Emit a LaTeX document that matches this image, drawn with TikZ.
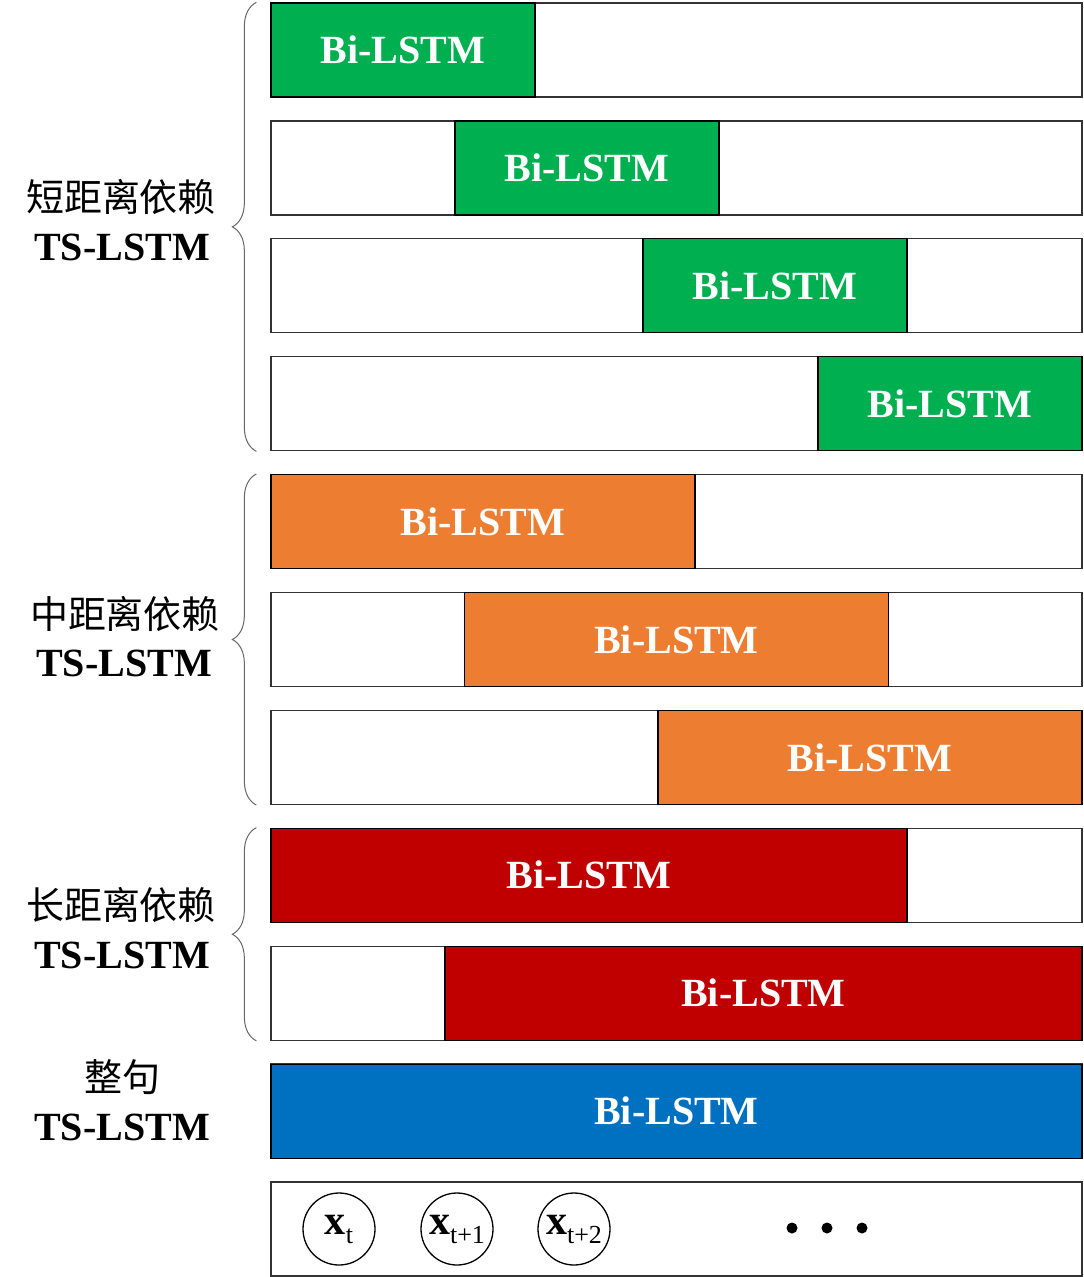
\documentclass[tikz,border=0pt]{standalone}
\usepackage{fontspec}
\setmainfont{Liberation Serif}
\newfontfamily\cjk{Noto Sans CJK SC}
\usetikzlibrary{decorations.pathreplacing}
\definecolor{sgreen}{HTML}{00B050}
\definecolor{sorange}{HTML}{ED7D31}
\definecolor{sred}{HTML}{C00000}
\definecolor{sblue}{HTML}{0070C0}
\tikzset{
  rowbox/.style={draw=black!80,line width=1.3pt,minimum width=811pt,minimum height=94pt,inner sep=0pt},
  seg/.style={draw=black,line width=1.2pt,minimum height=94pt,inner sep=0pt,text=white,
    font=\fontsize{40}{40}\selectfont\bfseries},
  grp/.style={draw=black!60,line width=1pt,decorate,decoration={brace,amplitude=24pt}},
  cn/.style={font=\fontsize{38}{38}\selectfont\cjk},
  ts/.style={font=\fontsize{40}{40}\selectfont\bfseries},
  inp/.style={circle,draw,line width=1.3pt,minimum size=72pt,inner sep=0pt},
  dot/.style={circle,fill,minimum size=11pt,inner sep=0pt},
}
\newcommand{\xin}[1]{{\fontsize{42}{42}\selectfont\bfseries x}\raisebox{-9pt}{\fontsize{26}{26}\selectfont #1}}

\begin{document}
\begin{tikzpicture}[x=1pt,y=-1pt]
  \useasboundingbox (0,0) rectangle (1084,1277);
  % rows
  \foreach \i in {1,...,11}
    \node[rowbox] (row\i) at (676.5,{50+117.9*(\i-1)}) {};

  % short range
  \node[seg,fill=sgreen,minimum width=264pt] (g1) at (403,50) {Bi-LSTM};
  \node[seg,fill=sgreen,minimum width=264pt] (g2) at (587,167.9) {Bi-LSTM};
  \node[seg,fill=sgreen,minimum width=264pt] (g3) at (775,285.8) {Bi-LSTM};
  \node[seg,fill=sgreen,minimum width=264pt] (g4) at (950,403.7) {Bi-LSTM};
  % middle range
  \node[seg,fill=sorange,minimum width=424pt] (o1) at (483,521.6) {Bi-LSTM};
  \node[seg,fill=sorange,minimum width=424pt] (o2) at (676.5,639.5) {Bi-LSTM};
  \node[seg,fill=sorange,minimum width=424pt] (o3) at (870,757.4) {Bi-LSTM};
  % long range
  \node[seg,fill=sred,minimum width=636pt] (r1) at (589,875.3) {Bi-LSTM};
  \node[seg,fill=sred,minimum width=637pt] (r2) at (763.5,993.2) {Bi-LSTM};
  % whole sentence
  \node[seg,fill=sblue,minimum width=811pt] (b1) at (676.5,1111.1) {Bi-LSTM};

  % inputs
  \node[inp] (x1) at (339,1229) {\xin{t}};
  \node[inp] (x2) at (457,1229) {\xin{t+1}};
  \node[inp] (x3) at (574,1229) {\xin{t+2}};
  \node[dot] (d1) at (792,1228) {};
  \node[dot] (d2) at (827,1228) {};
  \node[dot] (d3) at (862,1228) {};

  % braces
  \draw[grp] ([xshift=-14pt]row4.south west) -- ([xshift=-14pt]row1.north west);
  \draw[grp] ([xshift=-14pt]row7.south west) -- ([xshift=-14pt]row5.north west);
  \draw[grp] ([xshift=-14pt]row9.south west) -- ([xshift=-14pt]row8.north west);

  % labels
  \node[cn] (c1) at (121,197) {短距离依赖};
  \node[ts] (t1) at (122,247) {TS-LSTM};
  \node[cn] (c2) at (125,614) {中距离依赖};
  \node[ts] (t2) at (124,663) {TS-LSTM};
  \node[cn] (c3) at (121,905) {长距离依赖};
  \node[ts] (t3) at (122,955) {TS-LSTM};
  \node[cn] (c4) at (122,1077) {整句};
  \node[ts] (t4) at (122,1127) {TS-LSTM};
\end{tikzpicture}
\end{document}
